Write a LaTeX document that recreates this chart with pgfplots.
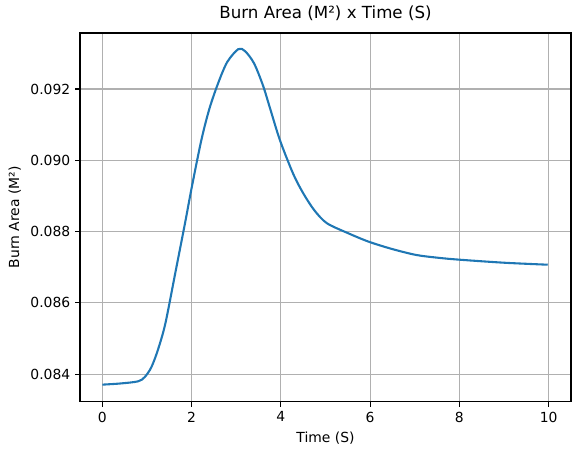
\documentclass[border=0pt]{standalone}
\usepackage{pgfplots}
\pgfplotsset{compat=1.18}
\usepackage{fontspec}
\setmainfont{DejaVu Sans}
\definecolor{mplblue}{HTML}{1F77B4}
\definecolor{mplgrid}{HTML}{B0B0B0}
\begin{document}
\begin{tikzpicture}
\useasboundingbox (-57.6pt,-38.2pt) rectangle (362.9pt,289.4pt);
\begin{axis}[
  at={(0,0)}, anchor=south west,
  scale only axis, width=353.5pt, height=265.7pt,
  xmin=-0.5, xmax=10.5, ymin=0.083223, ymax=0.093574,
  xtick={0,2,4,6,8,10},
  ytick={0.084,0.086,0.088,0.090,0.092},
  scaled y ticks=false,
  yticklabel style={/pgf/number format/.cd, fixed, fixed zerofill, precision=3},
  /pgf/number format/assume math mode=true,
  tick label style={font=\fontsize{10}{12}\selectfont, text=black},
  label style={font=\fontsize{10}{12}\selectfont},
  title style={font=\fontsize{12}{14}\selectfont, yshift=-1pt},
  title={Burn Area (M²) x Time (S)},
  xlabel={Time (S)}, ylabel={Burn Area (M²)},
  grid=major, major grid style={mplgrid, line width=0.8pt},
  axis line style={black, line width=0.8pt},
  tick style={black, line width=0.8pt},
  tick align=outside, major tick length=3.5pt,
  tick pos=left,
  clip=false,
]
\addplot[mplblue, line width=1.5pt, smooth, tension=0.5] coordinates {
(0.000,0.083708)
(0.40,0.083740)
(0.80,0.083800)
(0.95,0.083920)
(1.10,0.084200)
(1.25,0.084700)
(1.414,0.085431)
(1.634,0.086833)
(1.853,0.088236)
(2.007,0.089262)
(2.220,0.090572)
(2.400,0.091450)
(2.600,0.092180)
(2.800,0.092760)
(3.048,0.093120)
(3.200,0.093060)
(3.400,0.092720)
(3.600,0.092100)
(3.758,0.091461)
(3.978,0.090572)
(4.271,0.089638)
(4.500,0.089080)
(4.750,0.088600)
(5.030,0.088238)
(5.500,0.087960)
(5.970,0.087717)
(6.500,0.087510)
(7.030,0.087346)
(7.500,0.087270)
(7.980,0.087215)
(9.000,0.087128)
(9.980,0.087072)
};
\draw[black, line width=1pt] (rel axis cs:0,1) -- (rel axis cs:1,1) -- (rel axis cs:1,0);
\end{axis}
\end{tikzpicture}
\end{document}
